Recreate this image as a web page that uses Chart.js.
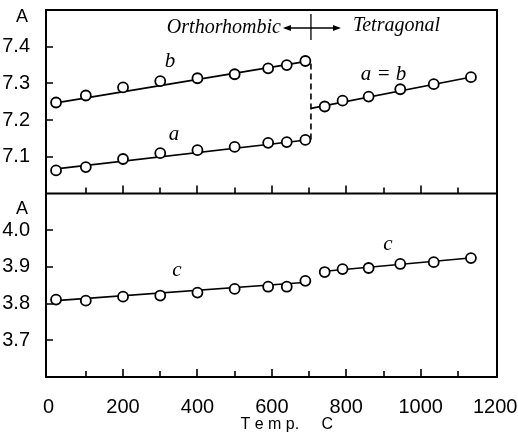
<!DOCTYPE html>
<html><head><meta charset="utf-8">
<script src="https://cdn.jsdelivr.net/npm/chart.js@4/dist/chart.umd.min.js"></script>
<style>html,body{margin:0;padding:0;background:#fff}#wrap{width:518px;height:434px}</style>
</head><body><div id="wrap"><canvas id="c" width="518" height="434"></canvas></div>
<script>
// ---- data ----
const tempsOrtho = [20, 100, 200, 300, 400, 500, 590, 640, 690];
const bValues = [7.248, 7.267, 7.289, 7.306, 7.314, 7.325, 7.341, 7.350, 7.361];
const aValues = [7.063, 7.072, 7.094, 7.110, 7.118, 7.127, 7.138, 7.140, 7.146];
const cOrthoValues = [3.811, 3.808, 3.819, 3.822, 3.830, 3.840, 3.846, 3.846, 3.862];
const tempsTetra = [742, 790, 860, 945, 1035, 1135];
const abValues = [7.237, 7.253, 7.264, 7.284, 7.298, 7.317];
const cTetraValues = [3.886, 3.894, 3.897, 3.908, 3.913, 3.924];
// straight fitted lines drawn in the figure: [temperature, value]
const bFit = [[20, 7.247], [705, 7.362]];
const aFit = [[20, 7.067], [705, 7.147]];
const abFit = [[705, 7.232], [1140, 7.318]];
const cOrthoFit = [[20, 3.808], [695, 3.858]];
const cTetraFit = [[742, 3.888], [1140, 3.925]];
const transitionT = 705;
// ticks
const xTickLabels = [0, 200, 400, 600, 800, 1000, 1200];
const xMinorTicks = [100, 200, 300, 400, 500, 600, 700, 800, 900, 1000, 1100];
const topTicks = [7.1, 7.2, 7.3, 7.4];
const bottomTicks = [3.7, 3.8, 3.9, 4.0];

const pts = (xs, ys) => xs.map((x, i) => ({x, y: ys[i]}));
const fit = arr => arr.map(p => ({x: p[0], y: p[1]}));

function lineDs(data, axis, dash) {
  return {type: 'line', data, yAxisID: axis, borderColor: '#000', borderWidth: 1.6,
    pointRadius: 0, fill: false, tension: 0, borderDash: dash || [], order: 2};
}
function ptDs(data, axis) {
  return {type: 'scatter', data, yAxisID: axis, showLine: false, pointRadius: 5,
    pointBorderWidth: 1.8, pointBorderColor: '#000', pointBackgroundColor: '#fff', order: 1};
}

const datasets = [
  lineDs(fit(bFit), 'yTop'),
  lineDs(fit(aFit), 'yTop'),
  lineDs(fit(abFit), 'yTop'),
  lineDs([{x: transitionT, y: aFit[1][1]}, {x: transitionT, y: bFit[1][1]}], 'yTop', [6, 4]),
  lineDs(fit(cOrthoFit), 'yBot'),
  lineDs(fit(cTetraFit), 'yBot'),
  ptDs(pts(tempsOrtho, bValues), 'yTop'),
  ptDs(pts(tempsOrtho, aValues), 'yTop'),
  ptDs(pts(tempsTetra, abValues), 'yTop'),
  ptDs(pts(tempsOrtho, cOrthoValues), 'yBot'),
  ptDs(pts(tempsTetra, cTetraValues), 'yBot'),
];

const tickFont = {family: 'Liberation Sans', size: 20};
const labelFont = 'italic 21px "Liberation Serif"';

const noPad = s => { s.paddingLeft = 0; s.paddingRight = 0; s.paddingTop = 0; s.paddingBottom = 0; };

const framePlugin = {
  id: 'frame',
  afterDraw(chart) {
    const ctx = chart.ctx, ca = chart.chartArea;
    const x = chart.scales.x, yTop = chart.scales.yTop, yBot = chart.scales.yBot;
    const mid = yTop.bottom;
    ctx.save();
    ctx.setLineDash([]);
    ctx.strokeStyle = '#000';
    ctx.fillStyle = '#000';

    // frame and divider
    ctx.lineWidth = 2;
    ctx.strokeRect(ca.left, ca.top, ca.right - ca.left, ca.bottom - ca.top);
    ctx.beginPath(); ctx.moveTo(ca.left, mid); ctx.lineTo(ca.right, mid); ctx.stroke();

    // inward tick marks
    ctx.lineWidth = 1.6;
    ctx.beginPath();
    xMinorTicks.forEach(function (v) {
      const px = Math.round(x.getPixelForValue(v));
      const len = (v % 200 === 0) ? 8 : 6;
      ctx.moveTo(px, mid); ctx.lineTo(px, mid - len);
      ctx.moveTo(px, ca.bottom); ctx.lineTo(px, ca.bottom - len);
    });
    topTicks.forEach(function (v) {
      const py = Math.round(yTop.getPixelForValue(v));
      ctx.moveTo(ca.left, py); ctx.lineTo(ca.left + 7, py);
    });
    bottomTicks.forEach(function (v) {
      const py = Math.round(yBot.getPixelForValue(v));
      ctx.moveTo(ca.left, py); ctx.lineTo(ca.left + 7, py);
    });
    ctx.stroke();

    // text annotations
    ctx.font = labelFont;
    ctx.textAlign = 'center'; ctx.textBaseline = 'middle';
    ctx.fillText('b', x.getPixelForValue(326), yTop.getPixelForValue(7.36));
    ctx.fillText('a', x.getPixelForValue(337), yTop.getPixelForValue(7.16));
    ctx.fillText('a = b', x.getPixelForValue(900), yTop.getPixelForValue(7.325));
    ctx.fillText('c', x.getPixelForValue(345), yBot.getPixelForValue(3.89));
    ctx.fillText('c', x.getPixelForValue(912), yBot.getPixelForValue(3.96));

    // phase header
    const tx = x.getPixelForValue(transitionT);
    const hy = ca.top + 18;
    ctx.lineWidth = 1.3;
    ctx.beginPath(); ctx.moveTo(tx, ca.top + 4); ctx.lineTo(tx, ca.top + 30); ctx.stroke();
    ctx.beginPath(); ctx.moveTo(tx - 26, hy); ctx.lineTo(tx + 28, hy); ctx.stroke();
    ctx.beginPath();
    ctx.moveTo(tx - 28, hy); ctx.lineTo(tx - 20, hy - 3); ctx.lineTo(tx - 20, hy + 3); ctx.closePath();
    ctx.moveTo(tx + 30, hy); ctx.lineTo(tx + 22, hy - 3); ctx.lineTo(tx + 22, hy + 3); ctx.closePath();
    ctx.fill();
    ctx.font = 'italic 20px "Liberation Serif"';
    ctx.textAlign = 'right';
    ctx.fillText('Orthorhombic', tx - 30, hy);
    ctx.textAlign = 'left';
    ctx.fillText('Tetragonal', tx + 42, hy - 2);

    // axis unit labels
    ctx.font = '18px "Liberation Sans"';
    ctx.textAlign = 'center';
    ctx.fillText('A', 22, ca.top + 7);
    ctx.fillText('A', 22, yBot.top + 16);
    ctx.font = '16px "Liberation Sans"';
    ctx.fillText('T e m p.     C', x.getPixelForValue(640), ca.bottom + 48);
    ctx.restore();
  }
};

new Chart(document.getElementById('c'), {
  data: {datasets},
  options: {
    responsive: false, animation: false,
    layout: {padding: {left: 0, right: 21, top: 10, bottom: 0}},
    plugins: {legend: {display: false}, tooltip: {enabled: false}},
    scales: {
      x: {type: 'linear', position: 'bottom', min: -7, max: 1205,
        grid: {display: false}, border: {display: false},
        afterBuildTicks: s => { s.ticks = xTickLabels.map(v => ({value: v})); },
        afterFit: s => { s.height = 57; noPad(s); },
        ticks: {font: tickFont, color: '#000', padding: 10, maxRotation: 0, autoSkip: false,
          callback: v => String(v)}},
      yBot: {type: 'linear', position: 'left', stack: 'panels', stackWeight: 1, min: 3.6, max: 4.1,
        grid: {display: false}, border: {display: false},
        afterBuildTicks: s => { s.ticks = bottomTicks.map(v => ({value: v})); },
        afterFit: s => { s.width = 46; noPad(s); },
        ticks: {font: tickFont, color: '#000', padding: 8, callback: v => v.toFixed(1)}},
      yTop: {type: 'linear', position: 'left', stack: 'panels', stackWeight: 1, min: 7.0, max: 7.5,
        grid: {display: false}, border: {display: false},
        afterBuildTicks: s => { s.ticks = topTicks.map(v => ({value: v})); },
        afterFit: s => { s.width = 46; noPad(s); },
        ticks: {font: tickFont, color: '#000', padding: 8, callback: v => v.toFixed(1)}}
    }
  },
  plugins: [framePlugin]
});
</script></body></html>
